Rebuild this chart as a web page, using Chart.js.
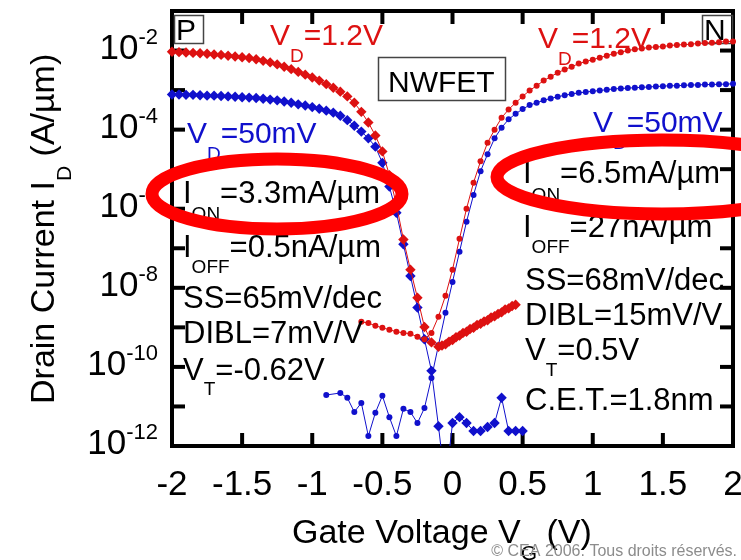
<!DOCTYPE html>
<html>
<head>
<meta charset="utf-8">
<script src="https://cdn.jsdelivr.net/npm/chart.js@4.4.0/dist/chart.umd.min.js"></script>
<style>
  html, body { margin: 0; padding: 0; background: #fff; }
  #chart { display: block; }
</style>
</head>
<body>
<canvas id="chart" width="741" height="560"></canvas>
<script>
// gate voltage (V) and log10 of drain current (A/um)

// P-type, VD = 1.2 V (red diamonds)
var vgP12 = [-2, -1.95, -1.9, -1.85, -1.8, -1.75, -1.7, -1.65, -1.6, -1.55, -1.5, -1.45, -1.4, -1.35, -1.3,
  -1.25, -1.2, -1.15, -1.1, -1.05, -1, -0.95, -0.9, -0.85, -0.8, -0.75, -0.7, -0.65, -0.6, -0.55, -0.5,
  -0.45, -0.4, -0.35, -0.3, -0.25, -0.2, -0.15, -0.1,
  -0.075, -0.05, -0.025, 0, 0.025, 0.05, 0.075, 0.1, 0.125, 0.15, 0.175, 0.2, 0.225, 0.25, 0.275, 0.3,
  0.325, 0.35, 0.375, 0.4, 0.425, 0.45];
var logIdP12 = [-2.03, -2.04, -2.05, -2.06, -2.07, -2.08, -2.10, -2.11, -2.13, -2.15, -2.17, -2.19, -2.22, -2.26, -2.30,
  -2.35, -2.41, -2.47, -2.54, -2.61, -2.68, -2.76, -2.85, -2.94, -3.04, -3.16, -3.32, -3.55, -3.82, -4.15, -4.55,
  -5.15, -5.90, -6.78, -7.54, -8.25, -8.99, -9.38, -9.49,
  -9.46, -9.43, -9.36, -9.32, -9.25, -9.21, -9.14, -9.11, -9.04, -9.01, -8.94, -8.91, -8.85, -8.82, -8.75, -8.72,
  -8.66, -8.62, -8.55, -8.52, -8.46, -8.43];

// P-type, VD = 50 mV (blue diamonds)
var vgP005 = [-2, -1.95, -1.9, -1.85, -1.8, -1.75, -1.7, -1.65, -1.6, -1.55, -1.5, -1.45, -1.4, -1.35, -1.3,
  -1.25, -1.2, -1.15, -1.1, -1.05, -1, -0.95, -0.9, -0.85, -0.8, -0.75, -0.7, -0.65, -0.6, -0.55, -0.5,
  -0.45, -0.4, -0.35, -0.3, -0.25, -0.2, -0.15, -0.1, -0.05,
  0, 0.05, 0.1, 0.15, 0.2, 0.25, 0.3, 0.35, 0.4, 0.45, 0.5];
var logIdP005 = [-3.11, -3.11, -3.12, -3.12, -3.13, -3.14, -3.14, -3.15, -3.16, -3.17, -3.18, -3.19, -3.20, -3.22, -3.24,
  -3.26, -3.29, -3.32, -3.36, -3.39, -3.43, -3.47, -3.52, -3.57, -3.65, -3.76, -3.90, -4.05, -4.22, -4.43, -4.84,
  -5.44, -6.10, -6.90, -7.70, -8.50, -9.30, -10.10, -11.50, -13.0,
  -11.42, -11.27, -11.42, -11.62, -11.62, -11.52, -11.42, -10.78, -11.62, -11.62, -11.62];

// N-type, VD = 1.2 V (red circles)
var vgN12 = [-0.65, -0.6, -0.55, -0.5, -0.45, -0.4, -0.35, -0.3, -0.25, -0.2, -0.15, -0.1, -0.05,
  0, 0.05, 0.1, 0.15, 0.2, 0.25, 0.3, 0.35, 0.4, 0.45, 0.5, 0.55, 0.6, 0.65, 0.7, 0.75, 0.8, 0.85, 0.9, 0.95,
  1, 1.05, 1.1, 1.15, 1.2, 1.25, 1.3, 1.35, 1.4, 1.45, 1.5, 1.55, 1.6, 1.65, 1.7, 1.75, 1.8, 1.85, 1.9, 1.95, 2];
var logIdN12 = [-8.86, -8.89, -8.96, -9.01, -9.06, -9.11, -9.14, -9.16, -9.24, -9.30, -9.14, -8.73, -8.20,
  -7.54, -6.76, -6.00, -5.34, -4.80, -4.33, -4.00, -3.70, -3.49, -3.32, -3.16, -3.01, -2.89, -2.76, -2.66, -2.56, -2.48, -2.41, -2.33, -2.28,
  -2.23, -2.18, -2.13, -2.08, -2.04, -2.00, -1.97, -1.95, -1.92, -1.91, -1.90, -1.87, -1.86, -1.85, -1.84, -1.82, -1.81, -1.80, -1.79, -1.77, -1.77];

// N-type, VD = 50 mV (blue circles)
var vgN005 = [-0.9, -0.8, -0.75, -0.7, -0.65, -0.6, -0.55, -0.5, -0.45, -0.4, -0.35, -0.3, -0.25, -0.2, -0.15, -0.1, -0.05,
  0, 0.05, 0.1, 0.15, 0.2, 0.25, 0.3, 0.35, 0.4, 0.45, 0.5, 0.55, 0.6, 0.65, 0.7, 0.75, 0.8, 0.85, 0.9, 0.95,
  1, 1.05, 1.1, 1.15, 1.2, 1.25, 1.3, 1.35, 1.4, 1.45, 1.5, 1.55, 1.6, 1.65, 1.7, 1.75, 1.8, 1.85, 1.9, 1.95, 2];
var logIdN005 = [-10.71, -10.66, -10.78, -11.14, -10.91, -11.75, -11.16, -10.73, -11.27, -11.75, -11.06, -11.14, -11.42, -11.04, -10.28, -9.45, -8.63,
  -7.85, -7.09, -6.33, -5.65, -5.05, -4.62, -4.22, -3.95, -3.74, -3.60, -3.48, -3.38, -3.32, -3.26, -3.21, -3.17, -3.13, -3.10, -3.07, -3.05,
  -3.03, -3.01, -2.99, -2.97, -2.96, -2.95, -2.94, -2.93, -2.92, -2.91, -2.90, -2.89, -2.89, -2.88, -2.87, -2.87, -2.86, -2.86, -2.85, -2.85, -2.84];

var xTicks = [-2, -1.5, -1, -0.5, 0, 0.5, 1, 1.5, 2];
var xTickLabels = ['-2', '-1.5', '-1', '-0.5', '0', '0.5', '1', '1.5', '2'];
var yDecades = [-11, -10, -9, -8, -7, -6, -5, -4, -3, -2];
var yLabelExps = [-2, -4, -6, -8, -10, -12];

var red = '#dd1111';
var blue = '#1010cc';
var FONT = '"Liberation Sans", Arial, Helvetica, sans-serif';

function pts(xs, logs) {
  return xs.map(function (x, i) { return { x: x, y: Math.pow(10, logs[i]) }; });
}

// draw a run of text pieces [text, size, dy] one after another
function rich(ctx, x, y, parts, color) {
  ctx.fillStyle = color;
  ctx.textAlign = 'left';
  ctx.textBaseline = 'alphabetic';
  parts.forEach(function (p) {
    ctx.font = p[1] + 'px ' + FONT;
    ctx.fillText(p[0], x, y + (p[2] || 0));
    x += ctx.measureText(p[0]).width;
  });
  return x;
}

function seg(ctx, x1, y1, x2, y2) {
  ctx.beginPath();
  ctx.moveTo(x1, y1);
  ctx.lineTo(x2, y2);
  ctx.stroke();
}

var frame = {
  id: 'frame',
  beforeDatasetsDraw: function (chart) {
    var ctx = chart.ctx, a = chart.chartArea;
    var xs = chart.scales.x, ys = chart.scales.y;
    ctx.save();
    ctx.strokeStyle = '#000';
    ctx.lineWidth = 4;
    ctx.strokeRect(a.left, a.top, a.right - a.left, a.bottom - a.top);
    xTicks.forEach(function (v) {
      var px = xs.getPixelForValue(v);
      seg(ctx, px, a.bottom, px, a.bottom - 13);
      seg(ctx, px, a.top, px, a.top + 13);
    });
    yDecades.forEach(function (e) {
      var py = ys.getPixelForValue(Math.pow(10, e));
      seg(ctx, a.left, py, a.left + 13, py);
      seg(ctx, a.right, py, a.right - 13, py);
    });

    // tick labels
    ctx.fillStyle = '#000';
    ctx.font = '35px ' + FONT;
    ctx.textAlign = 'center';
    ctx.textBaseline = 'alphabetic';
    xTicks.forEach(function (v, i) {
      ctx.fillText(xTickLabels[i], xs.getPixelForValue(v), 495);
    });
    yLabelExps.forEach(function (e) {
      var py = ys.getPixelForValue(Math.pow(10, e));
      var sup = String(e);
      ctx.font = '22px ' + FONT;
      var ws = ctx.measureText(sup).width;
      ctx.font = '35px ' + FONT;
      var wb = ctx.measureText('10').width;
      var right = 158;
      rich(ctx, right - ws - wb, py + 8, [['10', 35, 0]], '#000');
      rich(ctx, right - ws, py - 7, [[sup, 22, 0]], '#000');
    });

    // axis titles
    ctx.save();
    ctx.translate(54, 404);
    ctx.rotate(-Math.PI / 2);
    rich(ctx, 0, 0, [['Drain Current I', 34, 0], ['D', 21, 17], [' (A/\u00b5m)', 34, 0]], '#000');
    ctx.restore();
    rich(ctx, 292, 543, [['Gate Voltage V', 34, 0], ['G', 21, 17], [' (V)', 34, 0]], '#000');

    // small boxes
    ctx.strokeStyle = '#444';
    ctx.lineWidth = 1.5;
    ctx.strokeRect(174.5, 15.5, 29, 28);
    ctx.strokeRect(702.5, 15.5, 30, 28);
    ctx.strokeRect(378.5, 57.5, 127, 43);
    rich(ctx, 176, 40, [['P', 30]], '#000');
    rich(ctx, 704, 40, [['N', 30]], '#000');
    rich(ctx, 388, 92, [['NWFET', 30]], '#000');
    ctx.restore();
  },
  afterDatasetsDraw: function (chart) {
    var ctx = chart.ctx;
    ctx.save();
    // curve labels
    rich(ctx, 270, 45, [['V', 30], ['D', 19, 17], ['=1.2V', 30]], red);
    rich(ctx, 538, 48, [['V', 30], ['D', 19, 17], ['=1.2V', 30]], red);
    rich(ctx, 187, 143, [['V', 30], ['D', 19, 17], ['=50mV', 30]], blue);
    rich(ctx, 593, 132, [['V', 30], ['D', 19, 17], ['=50mV', 30]], blue);

    // P-type figures
    var k = '#000';
    rich(ctx, 183, 203, [['I', 31], ['ON', 19, 17], ['=3.3mA/\u00b5m', 31]], k);
    rich(ctx, 183, 257, [['I', 31], ['OFF', 19, 16], ['=0.5nA/\u00b5m', 31]], k);
    rich(ctx, 183, 308, [['SS=65mV/dec', 31]], k);
    rich(ctx, 183, 343, [['DIBL=7mV/V', 31]], k);
    rich(ctx, 183, 380, [['V', 31], ['T', 19, 15], ['=-0.62V', 31]], k);

    // N-type figures
    rich(ctx, 523, 183, [['I', 31], ['ON', 19, 18], ['=6.5mA/\u00b5m', 31]], k);
    rich(ctx, 523, 237, [['I', 31], ['OFF', 19, 16], ['=27nA/\u00b5m', 31]], k);
    rich(ctx, 525, 290, [['SS=68mV/dec', 31]], k);
    rich(ctx, 525, 325, [['DIBL=15mV/V', 31]], k);
    rich(ctx, 525, 360, [['V', 31], ['T', 19, 16], ['=0.5V', 31]], k);
    rich(ctx, 525, 410, [['C.E.T.=1.8nm', 31]], k);

    // highlight ellipses
    ctx.strokeStyle = '#ff0000';
    ctx.lineWidth = 13;
    ctx.beginPath();
    ctx.ellipse(277, 194, 125, 35, 0, 0, 2 * Math.PI);
    ctx.stroke();
    ctx.beginPath();
    ctx.ellipse(662, 177, 165, 37, 0, 0, 2 * Math.PI);
    ctx.stroke();

    ctx.fillStyle = '#8c8c8c';
    ctx.font = '16px ' + FONT;
    ctx.textAlign = 'right';
    ctx.fillText('\u00a9 CEA 2006. Tous droits r\u00e9serv\u00e9s.', 737, 556);
    ctx.restore();
  }
};

var clipBox = { left: 10, top: 0, right: 10, bottom: 0 };

function series(xs, logs, color, style, r) {
  return {
    data: pts(xs, logs),
    showLine: true,
    borderColor: color,
    backgroundColor: color,
    borderWidth: 1,
    pointStyle: style,
    pointRadius: r,
    pointBorderWidth: 0,
    pointBackgroundColor: color,
    clip: clipBox
  };
}

var ctx = document.getElementById('chart').getContext('2d');
var chart = new Chart(ctx, {
  type: 'scatter',
  data: {
    datasets: [
      series(vgP12, logIdP12, red, 'rectRot', 5.2),
      series(vgN12, logIdN12, red, 'circle', 3),
      series(vgP005, logIdP005, blue, 'rectRot', 5.2),
      series(vgN005, logIdN005, blue, 'circle', 3)
    ]
  },
  options: {
    responsive: false,
    animation: false,
    layout: { padding: { left: 172, top: 11, right: 8, bottom: 114 } },
    plugins: { legend: { display: false }, tooltip: { enabled: false } },
    scales: {
      x: { type: 'linear', min: -2, max: 2, display: false },
      y: { type: 'logarithmic', min: 1e-12, max: 1e-1, display: false }
    }
  },
  plugins: [frame]
});
</script>
</body>
</html>
